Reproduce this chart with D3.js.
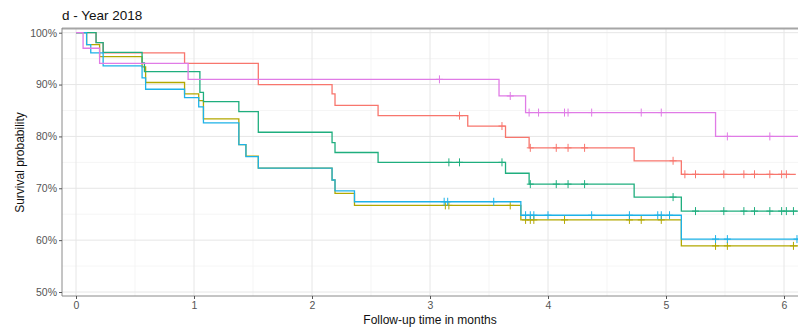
<!DOCTYPE html>
<html>
<head>
<meta charset="utf-8">
<script src="https://cdn.jsdelivr.net/npm/d3@7"></script>
<style>
  html, body { margin: 0; padding: 0; background: #fff; }
  svg { display: block; font-family: Arial, "Liberation Sans", sans-serif; }
</style>
</head>
<body>
<div id="chart"></div>
<script>
// Kaplan-Meier curves.
// times in months, survival as fraction; each step starts at the listed time.
const xTicks = [0, 1, 2, 3, 4, 5, 6];
const yTicks = [0.5, 0.6, 0.7, 0.8, 0.9, 1.0];

const redTime = [0, 0.17, 0.23, 0.92, 1.545, 2.17, 2.195, 2.56, 3.32, 3.64, 3.84, 4.73, 5.13];
const redSurv = [1, 0.981, 0.961, 0.941, 0.900, 0.882, 0.860, 0.840, 0.820, 0.798, 0.778, 0.753, 0.727];
const redCens = [3.25, 3.61, 3.85, 4.07, 4.17, 4.31, 5.06, 5.16, 5.25, 5.49, 5.66, 5.75, 5.88, 5.98, 6.02];
const redEnd = 6.1;

const yellowTime = [0, 0.09, 0.2, 0.56, 0.59, 0.92, 1.04, 1.08, 1.38, 1.44, 1.545, 2.17, 2.195, 2.36, 3.77, 5.13];
const yellowSurv = [1, 0.977, 0.954, 0.934, 0.904, 0.882, 0.869, 0.834, 0.784, 0.762, 0.739, 0.716, 0.690, 0.667, 0.639, 0.589];
const yellowCens = [3.13, 3.16, 3.68, 3.81, 3.85, 3.88, 4.14, 4.69, 4.79, 4.96, 5.42, 5.52, 6.08];
const yellowEnd = 6.15;

const greenTime = [0, 0.17, 0.23, 0.56, 0.58, 1.05, 1.08, 1.38, 1.545, 2.17, 2.195, 2.56, 3.64, 3.84, 4.73, 5.13];
const greenSurv = [1, 0.981, 0.962, 0.942, 0.925, 0.885, 0.867, 0.848, 0.808, 0.788, 0.769, 0.750, 0.729, 0.708, 0.683, 0.656];
const greenCens = [3.16, 3.25, 3.61, 3.85, 4.07, 4.17, 4.31, 5.06, 5.25, 5.49, 5.66, 5.75, 5.88, 5.98, 6.02, 6.08];
const greenEnd = 6.14;

const blueTime = [0, 0.09, 0.125, 0.23, 0.56, 0.59, 0.92, 1.04, 1.08, 1.38, 1.44, 1.545, 2.17, 2.195, 2.36, 3.77, 5.13];
const blueSurv = [1, 0.977, 0.961, 0.936, 0.913, 0.891, 0.875, 0.857, 0.826, 0.784, 0.761, 0.739, 0.716, 0.695, 0.674, 0.648, 0.602];
const blueCens = [3.12, 3.15, 3.54, 3.81, 3.85, 3.88, 4.0, 4.37, 4.69, 4.93, 4.96, 5.03, 5.42, 5.52, 6.11];
const blueEnd = 6.2;

const pinkTime = [0, 0.06, 0.2, 0.95, 3.585, 3.81, 5.42];
const pinkSurv = [1, 0.970, 0.941, 0.910, 0.878, 0.846, 0.800];
const pinkCens = [3.08, 3.68, 3.84, 3.92, 4.14, 4.17, 4.37, 4.79, 4.96, 5.52, 5.88];
const pinkEnd = 6.2;

const series = [
  { color: '#F8766D', time: redTime, surv: redSurv, cens: redCens, end: redEnd },
  { color: '#B3A800', time: yellowTime, surv: yellowSurv, cens: yellowCens, end: yellowEnd },
  { color: '#1FAE7E', time: greenTime, surv: greenSurv, cens: greenCens, end: greenEnd },
  { color: '#1DB2E8', time: blueTime, surv: blueSurv, cens: blueCens, end: blueEnd },
  { color: '#E07BE6', time: pinkTime, surv: pinkSurv, cens: pinkCens, end: pinkEnd },
];

const width = 798;
const height = 330;
const panel = { left: 62, top: 29, right: 800, bottom: 296 };

const x = d3.scaleLinear().domain([0, 6]).range([76, 784]);
const y = d3.scaleLinear().domain([0.5, 1.0]).range([292, 32.7]);

const svg = d3.select('#chart').append('svg')
  .attr('width', width)
  .attr('height', height);

svg.append('defs').append('clipPath').attr('id', 'clip')
  .append('rect')
  .attr('x', panel.left)
  .attr('y', panel.top)
  .attr('width', panel.right - panel.left)
  .attr('height', panel.bottom - panel.top);

// grid: minor first, then major
const grid = svg.append('g');
const minorX = d3.range(0.5, 6.5, 1);
const minorY = [0.55, 0.65, 0.75, 0.85, 0.95];
grid.selectAll('.mx').data(minorX).join('line')
  .attr('x1', (d) => x(d)).attr('x2', (d) => x(d))
  .attr('y1', panel.top).attr('y2', panel.bottom)
  .attr('stroke', '#f2f2f2').attr('stroke-width', 0.8);
grid.selectAll('.my').data(minorY).join('line')
  .attr('x1', panel.left).attr('x2', panel.right)
  .attr('y1', (d) => y(d)).attr('y2', (d) => y(d))
  .attr('stroke', '#f2f2f2').attr('stroke-width', 0.8);
grid.selectAll('.Mx').data(xTicks).join('line')
  .attr('x1', (d) => x(d)).attr('x2', (d) => x(d))
  .attr('y1', panel.top).attr('y2', panel.bottom)
  .attr('stroke', '#e6e6e6').attr('stroke-width', 1);
grid.selectAll('.My').data(yTicks).join('line')
  .attr('x1', panel.left).attr('x2', panel.right)
  .attr('y1', (d) => y(d)).attr('y2', (d) => y(d))
  .attr('stroke', '#e6e6e6').attr('stroke-width', 1);

// curves
const curves = svg.append('g').attr('clip-path', 'url(#clip)');
const line = d3.line()
  .x((d) => x(d[0]))
  .y((d) => y(d[1]))
  .curve(d3.curveStepAfter);

function survAt(s, t) {
  const i = d3.bisectRight(s.time, t) - 1;
  return s.surv[Math.max(0, i)];
}

series.forEach((s) => {
  const pts = s.time.map((t, i) => [t, s.surv[i]]);
  pts.push([s.end, s.surv[s.surv.length - 1]]);
  curves.append('path')
    .attr('d', line(pts))
    .attr('fill', 'none')
    .attr('stroke', s.color)
    .attr('stroke-width', 1.3);

  curves.selectAll(null).data(s.cens).join('path')
    .attr('d', (t) => {
      const cx = x(t), cy = y(survAt(s, t));
      return `M${cx},${cy - 4}V${cy + 4}M${cx - 3.5},${cy}H${cx + 3.5}`;
    })
    .attr('stroke', s.color)
    .attr('stroke-width', 1);
});

// panel border: top and left/bottom axis lines
svg.append('line')
  .attr('x1', panel.left).attr('x2', width)
  .attr('y1', panel.top - 0.5).attr('y2', panel.top - 0.5)
  .attr('stroke', '#a6a6a6').attr('stroke-width', 2);
svg.append('line')
  .attr('x1', panel.left).attr('x2', panel.left)
  .attr('y1', panel.top - 1).attr('y2', panel.bottom)
  .attr('stroke', '#8a8a8a').attr('stroke-width', 1);
svg.append('line')
  .attr('x1', panel.left).attr('x2', width)
  .attr('y1', panel.bottom).attr('y2', panel.bottom)
  .attr('stroke', '#8a8a8a').attr('stroke-width', 1);

// axes
const xAxis = svg.append('g')
  .attr('transform', `translate(0,${panel.bottom})`)
  .call(d3.axisBottom(x).tickValues(xTicks).tickSize(3).tickPadding(3).tickFormat(d3.format('d')));
const yAxis = svg.append('g')
  .attr('transform', `translate(${panel.left},0)`)
  .call(d3.axisLeft(y).tickValues(yTicks).tickSize(3).tickPadding(2).tickFormat(d3.format('.0%')));

[xAxis, yAxis].forEach((g) => {
  g.select('.domain').remove();
  g.selectAll('.tick line').attr('stroke', '#555');
  g.selectAll('.tick text')
    .attr('fill', '#555')
    .attr('font-size', 10.5)
    .attr('font-family', 'Arial, "Liberation Sans", sans-serif');
});

// titles
svg.append('text')
  .attr('x', 62).attr('y', 20)
  .attr('font-size', 13.5)
  .attr('fill', '#111')
  .text('d - Year 2018');

svg.append('text')
  .attr('x', (panel.left + width) / 2)
  .attr('y', 324)
  .attr('text-anchor', 'middle')
  .attr('font-size', 12)
  .attr('fill', '#111')
  .text('Follow-up time in months');

svg.append('text')
  .attr('transform', `translate(24,${(panel.top + panel.bottom) / 2}) rotate(-90)`)
  .attr('text-anchor', 'middle')
  .attr('font-size', 12)
  .attr('fill', '#111')
  .text('Survival probability');
</script>
</body>
</html>
